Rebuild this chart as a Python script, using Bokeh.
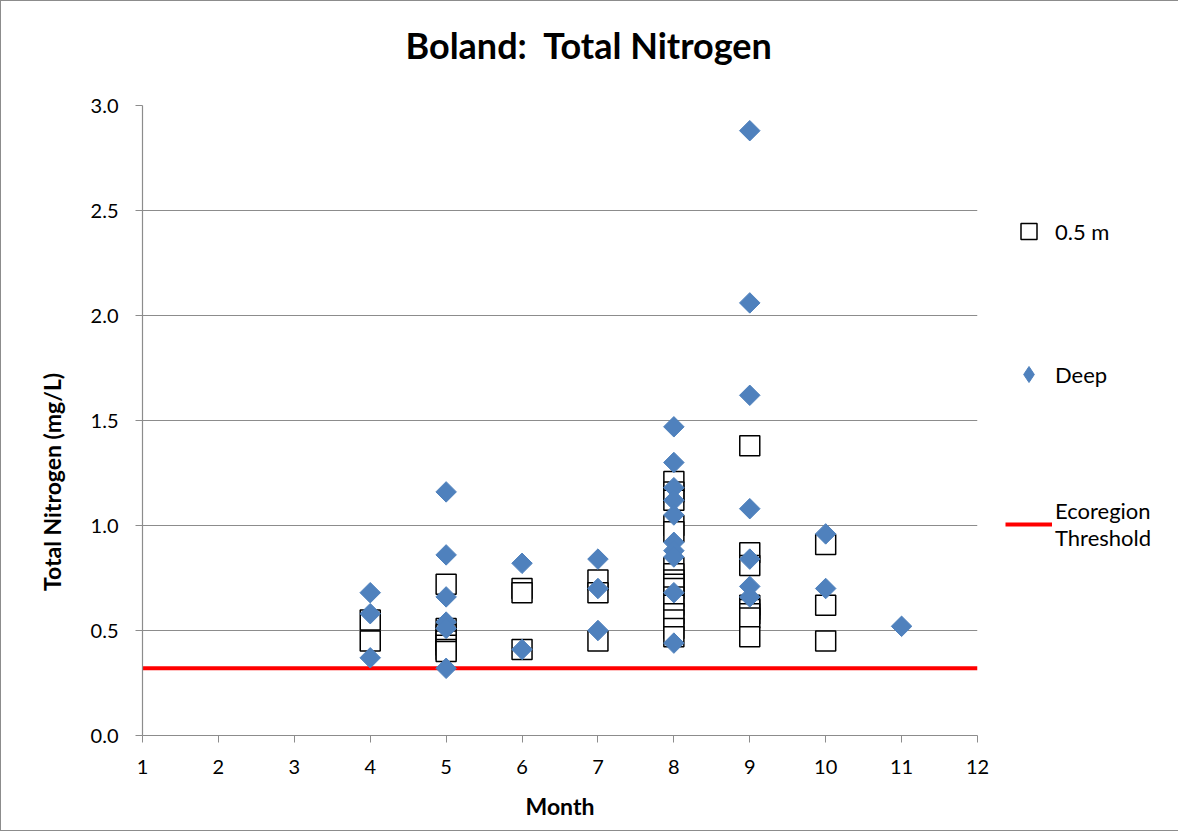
import numpy as np
from bokeh.plotting import figure
from bokeh.models import (Legend, LegendItem, FixedTicker, NumeralTickFormatter, Range1d, Title)
from bokeh.embed import file_html
from bokeh.resources import INLINE

# ---- data ----
shallow_month = [4, 4,
                 5, 5, 5, 5, 5, 5, 5,
                 6, 6, 6,
                 7, 7, 7,
                 8, 8, 8, 8, 8, 8, 8, 8, 8, 8, 8, 8, 8, 8, 8, 8,
                 9, 9, 9, 9, 9, 9, 9, 9,
                 10, 10, 10]
shallow_tn = [0.55, 0.45,
              0.72, 0.51, 0.48, 0.45, 0.43, 0.41, 0.40,
              0.70, 0.68, 0.41,
              0.74, 0.68, 0.45,
              1.21, 1.16, 1.12, 1.00, 0.97, 0.80, 0.77, 0.74, 0.72, 0.70, 0.66, 0.62, 0.58, 0.55, 0.51, 0.47,
              1.38, 0.87, 0.81, 0.62, 0.60, 0.58, 0.56, 0.47,
              0.91, 0.62, 0.45]

deep_month = [4, 4, 4,
              5, 5, 5, 5, 5, 5,
              6, 6,
              7, 7, 7,
              8, 8, 8, 8, 8, 8, 8, 8, 8, 8,
              9, 9, 9, 9, 9, 9, 9,
              10, 10,
              11]
deep_tn = [0.68, 0.58, 0.37,
           1.16, 0.86, 0.66, 0.54, 0.51, 0.32,
           0.82, 0.41,
           0.84, 0.70, 0.50,
           1.47, 1.30, 1.18, 1.12, 1.05, 0.92, 0.88, 0.85, 0.68, 0.44,
           2.88, 2.06, 1.62, 1.08, 0.84, 0.71, 0.66,
           0.96, 0.70,
           0.52]

threshold_month = [1, 12]
threshold_tn = [0.32, 0.32]

month_ticks = [1, 2, 3, 4, 5, 6, 7, 8, 9, 10, 11, 12]
tn_ticks = [0.0, 0.5, 1.0, 1.5, 2.0, 2.5, 3.0]

FONT = "Lato"
BLUE = "#4f81bd"

p = figure(frame_width=835, frame_height=630, output_backend="svg", toolbar_location=None,
           x_range=Range1d(1, 12), y_range=Range1d(0, 3.0),
           min_border_left=141, min_border_right=180,
           min_border_top=104, min_border_bottom=95)
p.styles = {"border": "1px solid #8c8c8c"}

p.title.text = "Boland:\u00a0 Total Nitrogen"
p.title.align = "left"
p.title.offset = 263
p.title.vertical_align = "middle"
p.title.text_font = FONT
p.title.text_font_size = "36px"
p.title.text_font_style = "bold"
p.title.text_color = "black"
p.title.standoff = 0

# blank spacer between title and plot frame
p.add_layout(Title(text="\u00a0", text_font_size="10px", standoff=25), "above")

p.outline_line_color = None
p.xgrid.grid_line_color = None
p.ygrid.grid_line_color = "#8c8c8c"
p.ygrid.grid_line_width = 1.2

p.xaxis.ticker = FixedTicker(ticks=month_ticks)
p.yaxis.ticker = FixedTicker(ticks=tn_ticks)
p.yaxis.formatter = NumeralTickFormatter(format="0.0")
for ax in (p.xaxis[0], p.yaxis[0]):
    ax.axis_line_color = "#8c8c8c"
    ax.axis_line_width = 1.2
    ax.major_tick_line_color = "#8c8c8c"
    ax.major_tick_out = 7
    ax.major_tick_in = 0
    ax.minor_tick_line_color = None
    ax.major_label_text_font = FONT
    ax.major_label_text_font_size = "20px"
    ax.major_label_text_color = "black"
    ax.axis_label_text_font = FONT
    ax.axis_label_text_font_size = "23px"
    ax.axis_label_text_font_style = "bold"
    ax.axis_label_text_color = "black"
p.xaxis.axis_label = "Month"
# trailing no-break spaces move the visible label toward the lower end of the axis
p.yaxis.axis_label = "Total Nitrogen (mg/L)" + "\u00a0" * 22
p.xaxis.major_label_standoff = 17
p.yaxis.major_label_standoff = 17
p.yaxis.axis_label_standoff = 22
p.xaxis.axis_label_standoff = 15

r_thr = p.line(threshold_month, threshold_tn, line_color="#ff0000", line_width=4)
r_sh = p.scatter(shallow_month, shallow_tn, marker="square", size=20,
                 fill_color="white", line_color="black", line_width=1.5)
# legend key for Deep: same points as narrow diamonds, hidden beneath the rotated squares
r_dp_key = p.scatter(deep_month, deep_tn, marker="diamond", size=14,
                     fill_color=BLUE, line_color=BLUE)
r_dp = p.scatter(deep_month, deep_tn, marker="square", angle=np.pi / 4, size=14.5,
                 fill_color=BLUE, line_color=BLUE, line_width=1)

legend = Legend(items=[LegendItem(label="0.5 m", renderers=[r_sh]),
                       LegendItem(label="Deep", renderers=[r_dp_key]),
                       LegendItem(label="Ecoregion\nThreshold", renderers=[r_thr])],
                location=(28, 184), spacing=103, border_line_color=None,
                label_text_font=FONT, label_text_font_size="22px",
                label_text_line_height=1.4,
                label_text_color="black",
                glyph_width=47, glyph_height=40, label_standoff=3,
                background_fill_alpha=0, padding=0, margin=0)
p.add_layout(legend, "right")

open("out.html", "w").write(file_html(p, INLINE))
